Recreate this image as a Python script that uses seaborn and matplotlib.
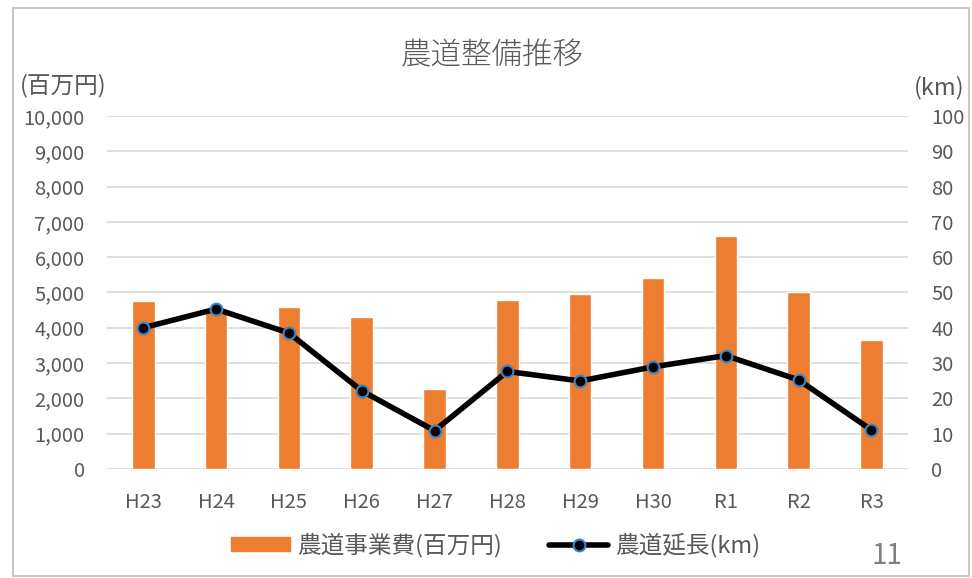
import matplotlib
matplotlib.use("Agg")
import matplotlib.pyplot as plt
import seaborn as sns
import pandas as pd
from matplotlib.patches import Rectangle
from matplotlib.lines import Line2D

years = ["H23", "H24", "H25", "H26", "H27", "H28", "H29", "H30", "R1", "R2", "R3"]
cost = [4760, 4550, 4580, 4310, 2250, 4790, 4960, 5400, 6600, 5010, 3650]
length_km = [40.0, 45.3, 38.5, 22.1, 10.8, 27.6, 24.9, 28.9, 32.1, 25.2, 11.0]
left_ticks = list(range(0, 10001, 1000))
right_ticks = list(range(0, 101, 10))

sns.set_theme(style="white")
plt.rcParams["font.family"] = ["Noto Sans CJK JP", "DejaVu Sans"]

df = pd.DataFrame({"year": years, "cost": cost, "km": length_km})

fig = plt.figure(figsize=(9.72, 5.78), dpi=100)
ax = fig.add_axes([0.110, 0.189, 0.824, 0.610])

orange = "#ED7D31"
gray = "#595959"

sns.barplot(data=df, x="year", y="cost", order=years, color=orange,
            width=0.31, saturation=1, ax=ax, zorder=2)
ax.set_ylim(0, 10000)
ax.set_yticks(left_ticks)
ax.set_yticklabels([f"{v:,}" for v in left_ticks])
ax.yaxis.grid(True, color="#d9d9d9", linewidth=1.2, zorder=0)
ax.set_axisbelow(True)
for s in ax.spines.values():
    s.set_visible(False)
ax.set_xlabel("")
ax.set_ylabel("")
ax.tick_params(axis="y", length=0, pad=16, labelsize=14.5, labelcolor=gray)
ax.tick_params(axis="x", length=0, pad=17, labelsize=14.5, labelcolor=gray)

ax2 = ax.twinx()
sns.pointplot(data=df, x="year", y="km", order=years, color="black",
              markers="o", ax=ax2, linewidth=4.0, markersize=8.5,
              markeredgecolor="#3f86c8", markeredgewidth=1.5)
ax2.set_ylim(0, 100)
ax2.set_yticks(right_ticks)
ax2.set_yticklabels([str(v) for v in right_ticks])
ax2.tick_params(axis="y", length=0, pad=17, labelsize=14.5, labelcolor=gray)
for s in ax2.spines.values():
    s.set_visible(False)
ax2.set_xlabel("")
ax2.set_ylabel("")
ax.set_xlim(-0.5, len(years) - 0.5)
ax2.set_xlim(-0.5, len(years) - 0.5)

fig.text(0.506, 0.905, "農道整備推移", ha="center", va="center",
         fontsize=22, color=gray, fontweight="light")
fig.text(0.020, 0.852, "(百万円)", ha="left", va="center", fontsize=17, color=gray)
fig.text(0.992, 0.848, "(km)", ha="right", va="center", fontsize=17, color=gray)
fig.text(0.912, 0.038, "11", ha="center", va="center", fontsize=20, color="#7f7f7f")

handles = [Rectangle((0, 0), 1, 1, color=orange),
           Line2D([0], [0], color="black", linewidth=4.0, marker="o",
                  markersize=8.5, markeredgecolor="#3f86c8", markeredgewidth=1.5)]
leg = fig.legend(handles, ["農道事業費(百万円)", "農道延長(km)"], loc="center",
                 bbox_to_anchor=(0.51, 0.057), ncol=2, frameon=False,
                 fontsize=17, handlelength=2.5, handleheight=0.55,
                 handletextpad=0.3, columnspacing=2.0)
for t in leg.get_texts():
    t.set_color(gray)

border = Rectangle((0.013, 0.004), 0.984, 0.982, transform=fig.transFigure,
                   fill=False, edgecolor="#c8c8c8", linewidth=1.5)
fig.patches.append(border)

fig.savefig("out.png", dpi=100)
